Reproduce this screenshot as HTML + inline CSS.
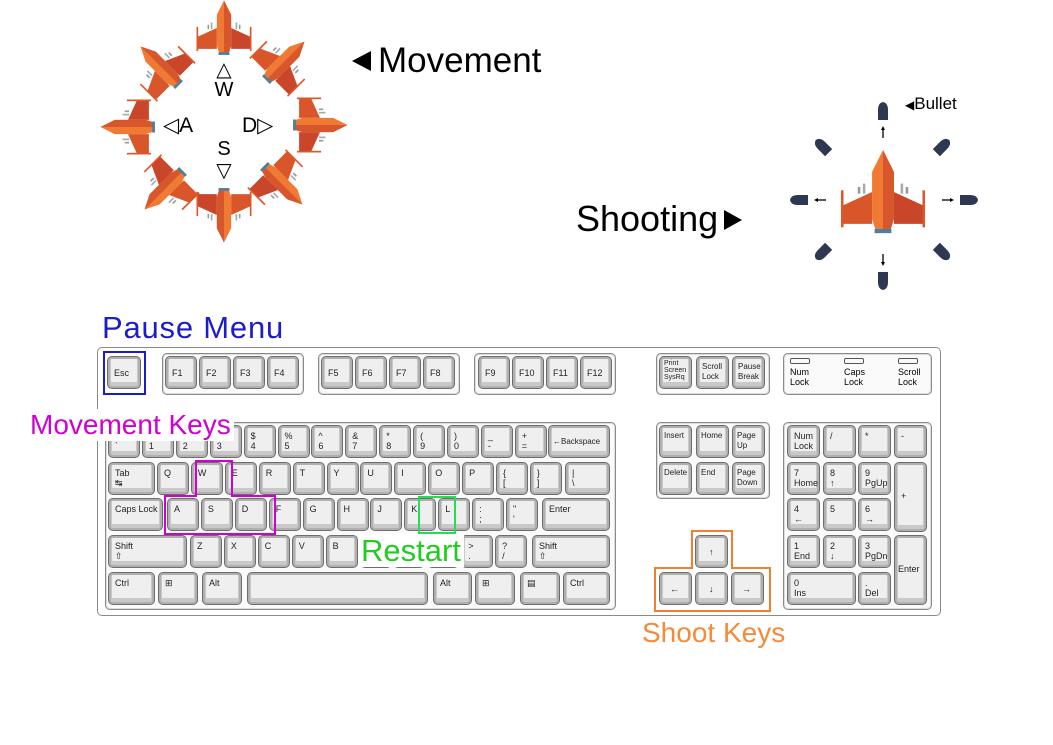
<!DOCTYPE html>
<html><head><meta charset="utf-8"><style>
body{margin:0;background:#fff;width:1053px;height:745px;overflow:hidden;position:relative;font-family:"Liberation Sans","DejaVu Sans",sans-serif}
.abs{position:absolute}
.grp{position:absolute;border:1.5px solid #8a8a8a;border-radius:5px;background:#fafafa;box-shadow:inset 0 0 0 1px #ddd}
.key{position:absolute;box-sizing:border-box;border:1.5px solid #6d6d6d;border-radius:5px;background:#efefef;box-shadow:inset 0 0 0 2px #b0b0b0,inset 0 -3px 0 3px #c9c9c9;font-size:9px;color:#222;line-height:10px;padding:5px 0 0 6px;white-space:pre}
.lbl{position:absolute;white-space:nowrap}
</style></head><body>
<svg class="abs" style="left:0;top:0" width="1053" height="300" viewBox="0 0 1053 300">
<defs>
<g id="ship">
<rect x="-30" y="-6" width="3" height="8" fill="#999"/><rect x="-24" y="-10" width="3" height="12" fill="#aaa"/>
<rect x="27" y="-6" width="3" height="8" fill="#999"/><rect x="21" y="-10" width="3" height="12" fill="#aaa"/>
<polygon points="-13,0 -48,16 -48,38 -13,38" fill="#d9552a"/>
<polygon points="13,0 48,16 48,38 13,38" fill="#c9462a"/>
<rect x="-50" y="-2" width="3" height="44" fill="#e0552a"/><rect x="47" y="-2" width="3" height="44" fill="#e0552a"/>
<polygon points="0,-50 -13,-24 -13,32 -9,45 9,45 13,32 13,-24" fill="#f07a34"/>
<polygon points="0,-50 13,-24 13,32 9,45 0,45" fill="#d8562c"/>
<rect x="-10" y="44" width="20" height="5" fill="#4d7fa0"/>
</g>
<path id="bullet" d="M-5,8 L-5,-2 Q-5,-9 0,-10 Q5,-9 5,-2 L5,8 Z" fill="#2e3850"/>
</defs>
<g id="ships"></g>
<g id="bullets"></g>
</svg>

<div class="lbl" style="left:350px;top:41px;font-size:35px;color:#000"><svg width="22" height="24" style="vertical-align:-1px;margin-right:6px"><polygon points="21,2 21,22 2,12" fill="#000"/></svg>Movement</div>
<div class="lbl" style="left:576px;top:198px;font-size:36px;color:#000">Shooting<svg width="22" height="24" style="vertical-align:-1px;margin-left:4px"><polygon points="2,2 2,22 20,12" fill="#000"/></svg></div>
<div class="lbl" style="left:905px;top:94px;font-size:17px;color:#000"><span style="font-size:12px">◀</span>Bullet</div>

<div class="lbl" style="left:212px;top:60px;font-size:20px;line-height:20px;text-align:center;width:24px">△<br>W</div>
<div class="lbl" style="left:163px;top:113px;font-size:21px">◁A</div>
<div class="lbl" style="left:242px;top:113px;font-size:21px">D▷</div>
<div class="lbl" style="left:212px;top:138px;font-size:20px;line-height:22px;text-align:center;width:24px">S<br>▽</div>

<div class="lbl" style="left:102px;top:310px;font-size:31px;color:#1d1dc8;letter-spacing:0.8px">Pause Menu</div>

<div class="abs" style="left:97px;top:347px;width:842px;height:267px;border:1.5px solid #8a8a8a;border-radius:5px;background:#fff"></div>
<div id="kb"></div>

<div class="abs" style="left:103px;top:351px;width:39px;height:40px;border:2px solid #1d1dc8"></div>
<svg class="abs" style="left:0;top:0" width="1053" height="745">
<polygon points="196,461 232,461 232,496 275,496 275,534 165,534 165,496 196,496" fill="none" stroke="#d000d0" stroke-width="2"/>
<rect x="419" y="497" width="36" height="36" fill="none" stroke="#22dd55" stroke-width="2"/>
<polygon points="692,531 732,531 732,568 770,568 770,611 655,611 655,568 692,568" fill="none" stroke="#f08030" stroke-width="2"/>
</svg>
<div class="lbl" style="left:28px;top:409px;font-size:28px;color:#d000d0;background:#fff;padding:0 3px 0 2px;line-height:32px">Movement Keys</div>
<div class="lbl" style="left:358px;top:534px;font-size:31px;color:#22cc22;background:#fff;padding:0 3px;line-height:33px">Restart</div>
<div class="lbl" style="left:642px;top:617px;font-size:28px;color:#f58a3a">Shoot Keys</div>

<script>
// ship placements: [cx, cy, rotation deg, scale]
const shipX=[224,285,320,283,224,164,128,160,883];
const shipY=[28,61,125,185,215,190,127,66,192];
const shipRot=[0,45,90,135,180,225,270,315,0];
const shipScale=[0.55,0.55,0.55,0.55,0.55,0.55,0.55,0.55,0.84];
const bulletX=[883,942,968,942,883,823,800,823];
const bulletY=[112,147,200,252,280,252,200,147];
const bulletRot=[0,45,90,135,180,225,270,315];
const NS='http://www.w3.org/2000/svg';
const sg=document.getElementById('ships');
for(let i=0;i<shipX.length;i++){
  const u=document.createElementNS(NS,'use');
  u.setAttribute('href','#ship');
  u.setAttribute('transform',`translate(${shipX[i]},${shipY[i]}) rotate(${shipRot[i]}) scale(${shipScale[i]})`);
  
  
  sg.appendChild(u);
}
const bg=document.getElementById('bullets');
for(let i=0;i<bulletX.length;i++){
  const g=document.createElementNS(NS,'g');
  g.setAttribute('transform',`translate(${bulletX[i]},${bulletY[i]}) rotate(${bulletRot[i]})`);
  
  
  g.innerHTML=(i%2==0)?'<use href="#bullet"/><line x1="0" y1="16" x2="0" y2="26" stroke="#000" stroke-width="1.3"/><polygon points="0,14 -2,18 2,18" fill="#000"/>':'<use href="#bullet"/>';
  bg.appendChild(g);
}

const kb=document.getElementById('kb');
function grp(x,y,w,h){
  const d=document.createElement('div');
  d.className='grp';
  d.style.cssText=`left:${x}px;top:${y}px;width:${w}px;height:${h}px`;
  
  
  kb.appendChild(d);
}
function key(x,y,w,h,t,extra){
  const d=document.createElement('div');
  d.className='key';
  d.style.cssText=`left:${x}px;top:${y}px;width:${w}px;height:${h}px;`+(extra||'');
  d.textContent=t;
  
  
  kb.appendChild(d);
}
grp(162,353,140,40);grp(318,353,140,40);grp(474,353,140,40);
grp(656,353,112,40);grp(783,353,147,40);
grp(105,422,509,186);grp(656,422,112,75);grp(783,422,147,186);
const KH=33;
key(107,356,34,KH,'Esc','padding-top:11px');
const fx=[165,199,233,267,321,355,389,423,478,512,546,580];
const fl=['F1','F2','F3','F4','F5','F6','F7','F8','F9','F10','F11','F12'];
fx.forEach((x,i)=>key(x,356,32,KH,fl[i],'padding-top:11px'));
key(659,356,33,KH,'Print\nScreen\nSysRq','font-size:7px;line-height:7px;padding:3px 0 0 4px');
key(696,356,33,KH,'Scroll\nLock','font-size:8px;padding:5px 0 0 5px');
key(732,356,33,KH,'Pause\nBreak','font-size:8px;padding:5px 0 0 5px');
const ind=document.createElement('div');
ind.className='lbl';


ind.style.cssText='left:790px;top:358px;font-size:9px;line-height:10px';
ind.innerHTML='<span style="position:absolute;left:0"><i style="display:block;width:18px;height:4px;border:1px solid #555;border-radius:2px;margin-bottom:3px"></i>Num<br>Lock</span><span style="position:absolute;left:54px"><i style="display:block;width:18px;height:4px;border:1px solid #555;border-radius:2px;margin-bottom:3px"></i>Caps<br>Lock</span><span style="position:absolute;left:108px"><i style="display:block;width:18px;height:4px;border:1px solid #555;border-radius:2px;margin-bottom:3px"></i>Scroll<br>Lock</span>';
kb.appendChild(ind);
const ry=[425,462,498,535,572];
const P=33.9;
const r1=['~\n`','!\n1','@\n2','#\n3','$\n4','%\n5','^\n6','&\n7','*\n8','(\n9',')\n0','_\n-','+\n='];
r1.forEach((t,i)=>key(108+i*P,ry[0],32,KH,t));
key(548,ry[0],62,KH,'←Backspace','padding-top:11px;font-size:8px;padding-left:4px');
key(108,ry[1],47,KH,'Tab\n↹');
const r2=['Q','W','E','R','T','Y','U','I','O','P','{\n[','}\n]'];
r2.forEach((t,i)=>key(157+i*P,ry[1],32,KH,t));
key(565,ry[1],45,KH,'|\n\\');
key(108,ry[2],55,KH,'Caps Lock');
const r3=['A','S','D','F','G','H','J','K','L',':\n;','"\n\''];
r3.forEach((t,i)=>key(167+i*P,ry[2],32,KH,t));
key(542,ry[2],68,KH,'Enter');
key(108,ry[3],79,KH,'Shift\n⇧');
const r4=['Z','X','C','V','B','N','M','<\n,','>\n.','?\n/'];
r4.forEach((t,i)=>key(190+i*P,ry[3],32,KH,t));
key(532,ry[3],78,KH,'Shift\n⇧');
key(108,ry[4],47,KH,'Ctrl');key(158,ry[4],40,KH,'⊞');key(202,ry[4],40,KH,'Alt');
key(247,ry[4],181,KH,'');key(433,ry[4],39,KH,'Alt');key(475,ry[4],40,KH,'⊞');
key(520,ry[4],40,KH,'▤');key(563,ry[4],47,KH,'Ctrl');
const nx=[659,696,732];
['Insert','Home','Page\nUp'].forEach((t,i)=>key(nx[i],ry[0],33,KH,t,'font-size:8px;padding:5px 0 0 4px'));
['Delete','End','Page\nDown'].forEach((t,i)=>key(nx[i],ry[1],33,KH,t,'font-size:8px;padding:5px 0 0 4px'));
key(695,535,33,KH,'↑','padding:11px 0 0 13px');
key(659,572,33,KH,'←','padding:11px 0 0 10px');key(695,572,33,KH,'↓','padding:11px 0 0 13px');key(731,572,33,KH,'→','padding:11px 0 0 10px');
const px=[787,823,858,894];
['Num\nLock','/','*','-'].forEach((t,i)=>key(px[i],ry[0],33,KH,t));
['7\nHome','8\n↑','9\nPgUp'].forEach((t,i)=>key(px[i],ry[1],33,KH,t));
['4\n←','5','6\n→'].forEach((t,i)=>key(px[i],ry[2],33,KH,t));
['1\nEnd','2\n↓','3\nPgDn'].forEach((t,i)=>key(px[i],ry[3],33,KH,t));
key(894,ry[1],33,70,'+','padding:28px 0 0 6px');
key(894,ry[3],33,70,'Enter','padding:28px 0 0 3px');
key(787,ry[4],69,KH,'0\nIns');key(858,ry[4],33,KH,'.\nDel');
</script>
</body></html>
